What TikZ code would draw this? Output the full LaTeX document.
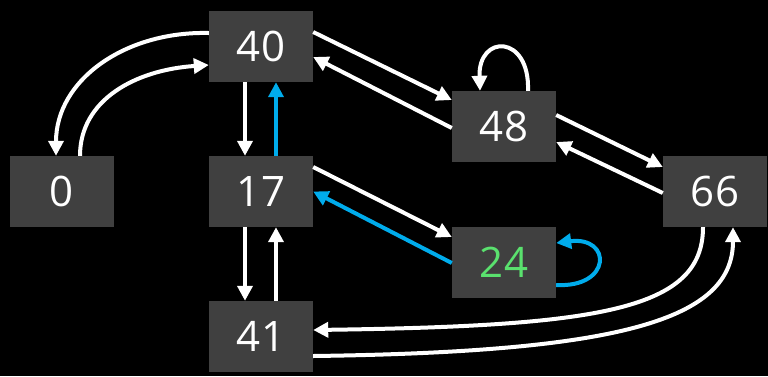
\documentclass[tikz,border=0pt]{standalone}
\usepackage{fontspec}
\setmainfont{Open Sans}
\usetikzlibrary{arrows.meta}
\definecolor{boxgray}{RGB}{64,64,64}
\definecolor{linkblue}{RGB}{0,172,236}
\definecolor{valgreen}{RGB}{90,225,110}
\begin{document}
\begin{tikzpicture}[x=1pt,y=-1pt,
  state/.style={fill=boxgray,draw=none,minimum width=104pt,minimum height=71pt,
    inner sep=0pt,text=white,font=\fontsize{42}{42}\selectfont},
  link/.style={draw=white,line width=4pt,-{Triangle[length=15pt,width=15pt]}},
  bluelink/.style={link,draw=linkblue,-{Triangle[length=15pt,width=15pt,fill=linkblue]}}]
  \fill[black] (0,0) rectangle (768,376);
  \useasboundingbox (0,0) rectangle (768,376);

  % states
  \node[state] (n40) at (261,46.5) {40};
  \node[state] (n0)  at (62,191.5) {0};
  \node[state] (n17) at (261,191.5) {17};
  \node[state] (n41) at (261,336.5) {41};
  \node[state] (n48) at (504,126.5) {48};
  \node[state] (n24) at (504,262.5) {\color{valgreen}24};
  \node[state] (n66) at (715,191.5) {66};

  % 0 <-> 40
  \draw[link] ([yshift=13.5pt]n40.west) .. controls (125,31) and (56,80) .. ([xshift=-6pt]n0.north);
  \draw[link] ([xshift=18pt]n0.north) .. controls (80,100) and (135,70) .. ([yshift=-18.5pt]n40.west);

  % 40 <-> 17
  \draw[link] ([xshift=-16pt]n40.south) -- ([xshift=-16pt]n17.north);
  \draw[bluelink] ([xshift=15pt]n17.north) -- ([xshift=15pt]n40.south);

  % 40 <-> 48
  \draw[link] ([yshift=14.5pt]n40.east) -- ([yshift=26.5pt]n48.west);
  \draw[link] ([yshift=-1.5pt]n48.west) -- ([yshift=-10.5pt]n40.east);

  % 48 <-> 66
  \draw[link] ([yshift=11.5pt]n48.east) -- ([yshift=24.5pt]n66.west);
  \draw[link] ([yshift=-1.5pt]n66.west) -- ([yshift=-15.5pt]n48.east);

  % 17 <-> 24
  \draw[link] ([yshift=24.5pt]n17.east) -- ([yshift=25.5pt]n24.west);
  \draw[bluelink] ([yshift=-0.5pt]n24.west) -- (n17.east);

  % 17 <-> 41
  \draw[link] ([xshift=-16pt]n17.south) -- ([xshift=-16pt]n41.north);
  \draw[link] ([xshift=15pt]n41.north) -- ([xshift=15pt]n17.south);

  % 66 <-> 41
  \draw[link] ([xshift=-12pt]n66.south) .. controls (703,310) and (600,326) .. ([yshift=6.5pt]n41.east);
  \draw[link] ([yshift=-19.5pt]n41.east) .. controls (620,352) and (733,320) .. ([xshift=18pt]n66.south);

  % self loops
  \draw[link] ([xshift=24pt]n48.north) .. controls (530,34) and (478,34) .. ([xshift=-24pt]n48.north);
  \draw[bluelink] ([yshift=-22.5pt]n24.east) .. controls (612,288) and (612,236) .. ([yshift=19.5pt]n24.east);
\end{tikzpicture}
\end{document}
